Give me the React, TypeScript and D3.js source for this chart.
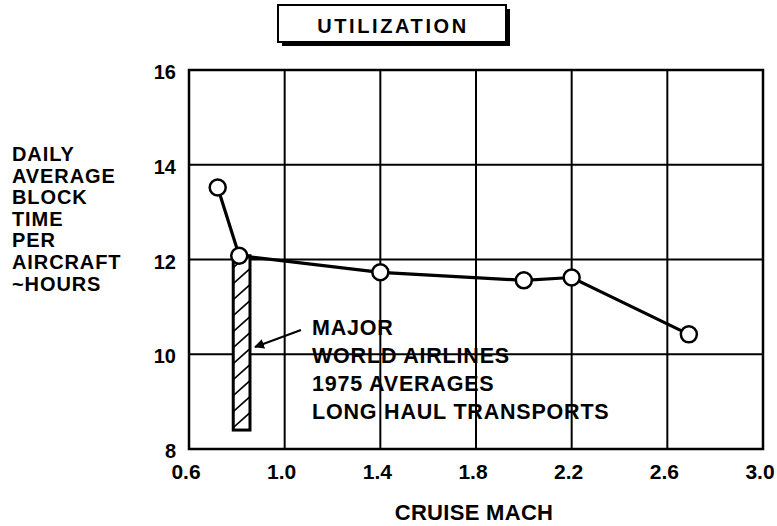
import React, { useEffect, useRef } from "react";
import * as d3 from "d3";

const machValues = [0.72, 0.81, 1.4, 2.0, 2.2, 2.69];
const blockHours = [13.52, 12.08, 11.73, 11.56, 11.62, 10.42];
const xTicks = [0.6, 1.0, 1.4, 1.8, 2.2, 2.6, 3.0];
const yTicks = [8, 10, 12, 14, 16];
const barRange = { x0: 0.785, x1: 0.855, low: 8.4, high: 12.08 };
const yTitleLines = ["DAILY", "AVERAGE", "BLOCK", "TIME", "PER", "AIRCRAFT", "~HOURS"];
const noteLines = ["MAJOR", "WORLD AIRLINES", "1975 AVERAGES", "LONG HAUL TRANSPORTS"];
const titleText = "UTILIZATION";
const xTitle = "CRUISE MACH";

const W = 777, H = 526;
const FONT = "'Liberation Sans', Arial, Helvetica, sans-serif";

export default function App() {
  const ref = useRef<SVGSVGElement>(null);
  useEffect(() => {
    const svg = d3.select(ref.current);
    svg.selectAll("*").remove();
    const x = d3.scaleLinear().domain([0.6, 3.0]).range([189, 763]);
    const y = d3.scaleLinear().domain([8, 16]).range([449, 70]);

    // title box with shadow
    const bx = 278, by = 5, bw = 228, bh = 37;
    svg.append("rect").attr("x", bx + 4).attr("y", by + 4).attr("width", bw).attr("height", bh).attr("fill", "#000");
    svg.append("rect").attr("x", bx).attr("y", by).attr("width", bw).attr("height", bh).attr("fill", "#fff").attr("stroke", "#000").attr("stroke-width", 2);
    svg.append("text").attr("x", bx + bw / 2 + 1).attr("y", by + 28).attr("text-anchor", "middle")
      .attr("font-family", FONT).attr("font-weight", "bold").attr("font-size", 20).attr("letter-spacing", 2.6).text(titleText);

    // grid
    const g = svg.append("g");
    g.selectAll("line.v").data(xTicks).enter().append("line")
      .attr("x1", d => x(d)).attr("x2", d => x(d)).attr("y1", y(16)).attr("y2", y(8))
      .attr("stroke", "#000").attr("stroke-width", 2);
    g.selectAll("line.h").data(yTicks).enter().append("line")
      .attr("x1", x(0.6)).attr("x2", x(3.0)).attr("y1", d => y(d)).attr("y2", d => y(d))
      .attr("stroke", "#000").attr("stroke-width", 2);
    g.append("rect").attr("x", x(0.6)).attr("y", y(16)).attr("width", x(3.0) - x(0.6)).attr("height", y(8) - y(16))
      .attr("fill", "none").attr("stroke", "#000").attr("stroke-width", 2.5);

    // tick labels
    g.selectAll("text.yt").data(yTicks).enter().append("text")
      .attr("x", 176).attr("y", d => y(d) + 9).attr("text-anchor", "end")
      .attr("font-family", FONT).attr("font-weight", "bold").attr("font-size", 20).text(d => String(d));
    g.selectAll("text.xt").data(xTicks).enter().append("text")
      .attr("x", d => x(d) - 3).attr("y", 479).attr("text-anchor", "middle")
      .attr("font-family", FONT).attr("font-weight", "bold").attr("font-size", 21).text(d => d.toFixed(1));

    // axis titles
    svg.append("text").attr("x", 474).attr("y", 520).attr("text-anchor", "middle")
      .attr("font-family", FONT).attr("font-weight", "bold").attr("font-size", 22).attr("letter-spacing", 0.3).text(xTitle);
    svg.append("g").selectAll("text").data(yTitleLines).enter().append("text")
      .attr("x", 12).attr("y", (_, i) => 161 + i * 21.6)
      .attr("font-family", FONT).attr("font-weight", "bold").attr("font-size", 20).attr("letter-spacing", 0.9).text(d => d);

    // hatched bar
    const bx0 = x(barRange.x0), bx1 = x(barRange.x1), byTop = y(barRange.high), byBot = y(barRange.low);
    svg.append("clipPath").attr("id", "barclip").append("rect")
      .attr("x", bx0).attr("y", byTop).attr("width", bx1 - bx0).attr("height", byBot - byTop);
    svg.append("rect").attr("x", bx0).attr("y", byTop).attr("width", bx1 - bx0).attr("height", byBot - byTop).attr("fill", "#fff");
    const hatch = svg.append("g").attr("clip-path", "url(#barclip)");
    const hatchYs = d3.range(byTop - 20, byBot + 30, 16);
    hatch.selectAll("line").data(hatchYs).enter().append("line")
      .attr("x1", bx0).attr("x2", bx1).attr("y1", d => d).attr("y2", d => d - (bx1 - bx0) * 0.9)
      .attr("stroke", "#000").attr("stroke-width", 1.6);
    svg.append("rect").attr("x", bx0).attr("y", byTop).attr("width", bx1 - bx0).attr("height", byBot - byTop)
      .attr("fill", "none").attr("stroke", "#000").attr("stroke-width", 3);

    // arrow + note
    svg.append("defs").append("marker").attr("id", "arrowhead").attr("viewBox", "0 0 10 10")
      .attr("refX", 9).attr("refY", 5).attr("markerWidth", 5).attr("markerHeight", 5).attr("orient", "auto")
      .append("path").attr("d", "M0,0 L10,5 L0,10 Z").attr("fill", "#000");
    svg.append("line").attr("x1", 301).attr("y1", 330).attr("x2", 255).attr("y2", 347)
      .attr("stroke", "#000").attr("stroke-width", 2).attr("marker-end", "url(#arrowhead)");
    svg.append("g").selectAll("text").data(noteLines).enter().append("text")
      .attr("x", 312).attr("y", (_, i) => 335 + i * 28)
      .attr("font-family", FONT).attr("font-weight", "bold").attr("font-size", 21.5).attr("letter-spacing", 0.8).text(d => d);

    // data line
    const pts = machValues.map((m, i) => [m, blockHours[i]] as [number, number]);
    const line = d3.line<[number, number]>().x(d => x(d[0])).y(d => y(d[1]));
    svg.append("path").attr("d", line(pts)).attr("fill", "none").attr("stroke", "#000").attr("stroke-width", 3.2);
    svg.append("g").selectAll("circle").data(pts).enter().append("circle")
      .attr("cx", d => x(d[0])).attr("cy", d => y(d[1])).attr("r", 8)
      .attr("fill", "#fff").attr("stroke", "#000").attr("stroke-width", 2.5);
  }, []);
  return (
    <svg ref={ref} width={W} height={H} style={{ position: "absolute", left: 0, top: 0, background: "#fff" }} />
  );
}
